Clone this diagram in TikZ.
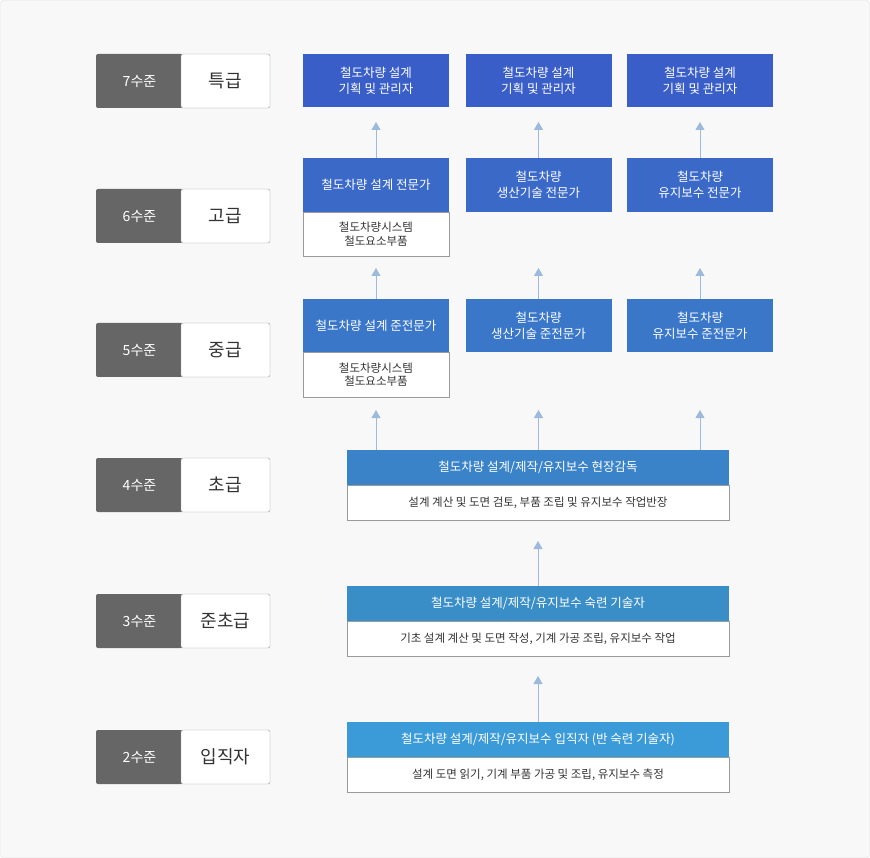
\documentclass[tikz,border=0pt]{standalone}
\usepackage{fontspec}
\setmainfont{Noto Sans CJK KR}
\usepackage{tikz}
\usetikzlibrary{arrows.meta, positioning}
\definecolor{pagebg}{HTML}{F8F8F9}
\definecolor{pageline}{HTML}{DEDEDE}
\definecolor{lvldark}{HTML}{666666}
\definecolor{boxline}{HTML}{9A9A9A}
\definecolor{txtdark}{HTML}{333333}
\definecolor{arrowcol}{HTML}{9DB9DB}
\definecolor{blueA}{HTML}{3A5EC8}
\definecolor{blueB}{HTML}{3A69C8}
\definecolor{blueC}{HTML}{3A77C8}
\definecolor{blueD}{HTML}{3A83C8}
\definecolor{blueE}{HTML}{3A8EC8}
\definecolor{blueF}{HTML}{3B9AD8}

\begin{document}
\begin{tikzpicture}[
        x=1pt, y=-1pt,
        node distance=0pt,
        every node/.style={outer sep=0pt, inner sep=0pt},
        lvl/.style={fill=lvldark, rounded corners=2pt, minimum width=87pt, minimum height=54pt, text=white, font=\fontsize{14}{16}\selectfont},
        grade/.style={draw=boxline, fill=white, rounded corners=2pt, minimum width=89pt, minimum height=54pt, text=txtdark, font=\fontsize{18}{20}\selectfont},
        head/.style={minimum width=146pt, minimum height=54pt, text=white, align=center, font=\fontsize{12.5}{16}\selectfont},
        body/.style={draw=boxline, fill=white, minimum width=146pt, minimum height=44pt, text=txtdark, align=center, font=\fontsize{11.5}{13.5}\selectfont},
        widehead/.style={minimum width=382pt, minimum height=35pt, text=white, font=\fontsize{12.5}{14}\selectfont},
        widebody/.style={draw=boxline, fill=white, minimum width=382pt, minimum height=35pt, text=txtdark, font=\fontsize{11.5}{13}\selectfont},
        up/.style={draw=arrowcol, line width=1pt, -{Triangle[width=9pt, length=8pt]}}
    ]
        \useasboundingbox (0,0) rectangle (870,858);
        \draw[fill=pagebg, draw=pageline, rounded corners=3pt] (0.5,0.5) rectangle (869.5,857.5);

        % levels
        \node[lvl] (v7) at (139.5,81) {7수준};
        \node[grade, right=-2pt of v7] (g7) {특급};
        \node[lvl] (v6) at (139.5,216) {6수준};
        \node[grade, right=-2pt of v6] (g6) {고급};
        \node[lvl] (v5) at (139.5,350) {5수준};
        \node[grade, right=-2pt of v5] (g5) {중급};
        \node[lvl] (v4) at (139.5,485) {4수준};
        \node[grade, right=-2pt of v4] (g4) {초급};
        \node[lvl] (v3) at (139.5,621) {3수준};
        \node[grade, right=-2pt of v3] (g3) {준초급};
        \node[lvl] (v2) at (139.5,757) {2수준};
        \node[grade, right=-2pt of v2] (g2) {입직자};

        \node[head, fill=blueA, minimum height=53pt] (s7a) at (376,80.5) {철도차량 설계\\기획 및 관리자};
        \node[head, fill=blueA, minimum height=53pt] (s7b) at (538.5,80.5) {철도차량 설계\\기획 및 관리자};
        \node[head, fill=blueA, minimum height=53pt] (s7c) at (700,80.5) {철도차량 설계\\기획 및 관리자};

        \node[head, fill=blueB] (s6a) at (376,185) {철도차량 설계 전문가};
        \node[body, below=of s6a] (d6a) {철도차량시스템\\철도요소부품};
        \node[head, fill=blueB] (s6b) at (538.5,185) {철도차량\\생산기술 전문가};
        \node[head, fill=blueB] (s6c) at (700,185) {철도차량\\유지보수 전문가};

        \node[head, fill=blueC, minimum height=53pt] (s5a) at (376,325.5) {철도차량 설계 준전문가};
        \node[body, below=of s5a, minimum height=45pt] (d5a) {철도차량시스템\\철도요소부품};
        \node[head, fill=blueC, minimum height=53pt] (s5b) at (538.5,325.5) {철도차량\\생산기술 준전문가};
        \node[head, fill=blueC, minimum height=53pt] (s5c) at (700,325.5) {철도차량\\유지보수 준전문가};

        \node[widehead, fill=blueD] (s4) at (538,467.5) {철도차량 설계/제작/유지보수 현장감독};
        \node[widebody, below=of s4] (d4) {설계 계산 및 도면 검토, 부품 조립 및 유지보수 작업반장};

        \node[widehead, fill=blueE] (s3) at (538,603.5) {철도차량 설계/제작/유지보수 숙련 기술자};
        \node[widebody, below=of s3] (d3) {기초 설계 계산 및 도면 작성, 기계 가공 조립, 유지보수 작업};

        \node[widehead, fill=blueF] (s2) at (538,739.5) {철도차량 설계/제작/유지보수 입직자 (반 숙련 기술자)};
        \node[widebody, below=of s2] (d2) {설계 도면 읽기, 기계 부품 가공 및 조립, 유지보수 측정};

        \draw[up, shorten >=15pt] (s6a) -- (s7a);
        \draw[up, shorten >=15pt] (s6b) -- (s7b);
        \draw[up, shorten >=15pt] (s6c) -- (s7c);
        \draw[up, shorten >=12pt] (s5a) -- (d6a);
        \draw[up, shorten >=56pt] (s5b) -- (s6b);
        \draw[up, shorten >=56pt] (s5c) -- (s6c);
        \draw[up, shorten >=13pt] (s4.north -| d5a) -- (d5a);
        \draw[up, shorten >=58pt] (s4.north -| s5b) -- (s5b);
        \draw[up, shorten >=58pt] (s4.north -| s5c) -- (s5c);
        \draw[up, shorten >=21pt] (s3) -- (d4);
        \draw[up, shorten >=20pt] (s2) -- (d3);
    \end{tikzpicture}
\end{document}
